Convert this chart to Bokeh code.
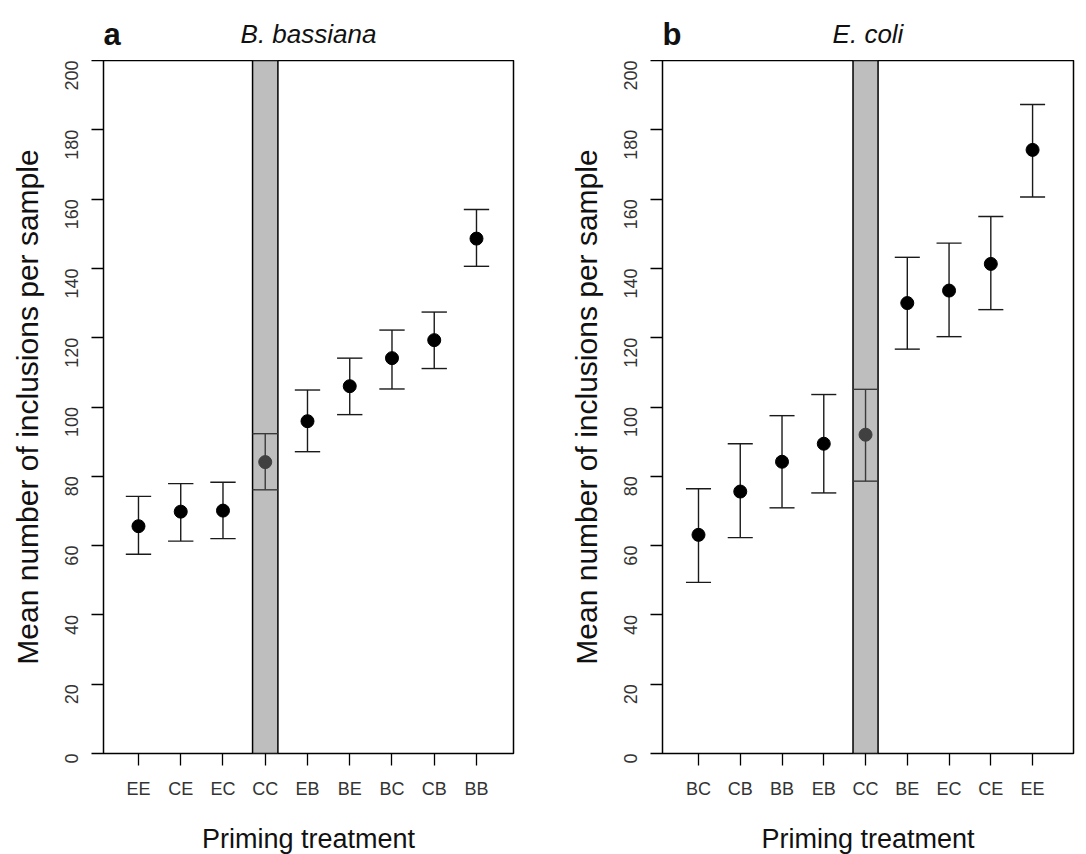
import math
from bokeh.plotting import figure
from bokeh.models import Range1d, FixedTicker
from bokeh.core.properties import value
from bokeh.layouts import row, column
from bokeh.embed import file_html
from bokeh.resources import INLINE

# ---- data ----
y_ticks = [0, 20, 40, 60, 80, 100, 120, 140, 160, 180, 200]

treat_a = ["EE", "CE", "EC", "CC", "EB", "BE", "BC", "CB", "BB"]
mean_a = [65.6, 69.8, 70.1, 84.1, 95.9, 106.0, 114.1, 119.3, 148.6]
upper_a = [74.2, 77.9, 78.3, 92.3, 104.9, 114.1, 122.2, 127.4, 157.0]
lower_a = [57.5, 61.3, 62.0, 76.1, 87.1, 97.8, 105.2, 111.1, 140.6]

treat_b = ["BC", "CB", "BB", "EB", "CC", "BE", "EC", "CE", "EE"]
mean_b = [63.1, 75.6, 84.2, 89.4, 92.0, 130.0, 133.6, 141.3, 174.2]
upper_b = [76.4, 89.4, 97.5, 103.6, 105.1, 143.2, 147.3, 155.0, 187.3]
lower_b = [49.4, 62.3, 70.9, 75.2, 78.6, 116.7, 120.3, 128.1, 160.6]

control = "CC"
FONT = "Liberation Sans"
HEAD_H = 60


def make_panel(treats, means, lows, ups, letter, title, x0, x1, frame_w, bl, br):
    xr = Range1d(x0, x1)

    # header strip carrying the panel letter and italic title, sharing the x mapping
    h = figure(frame_width=frame_w, frame_height=HEAD_H, x_range=xr, y_range=Range1d(0, HEAD_H),
               output_backend="svg", toolbar_location=None,
               min_border_left=bl, min_border_right=br, min_border_top=0, min_border_bottom=0,
               background_fill_color="white", border_fill_color="white")
    h.axis.visible = False
    h.grid.visible = False
    h.outline_line_color = None
    h.text(x=[x0], y=[26], text=[letter], text_font=value(FONT), text_font_size=value("31px"),
           text_font_style="bold", text_align="left", text_baseline="alphabetic",
           text_color="#111111")
    h.text(x=[(x0 + x1) / 2], y=[27], text=[title], text_font=value(FONT),
           text_font_size=value("26px"), text_font_style="italic", text_align="center",
           text_baseline="alphabetic", text_color="#111111")

    p = figure(frame_width=frame_w, frame_height=693,
               x_range=xr, y_range=Range1d(0, 200),
               output_backend="svg", toolbar_location=None,
               min_border_left=bl, min_border_right=br,
               min_border_top=0, min_border_bottom=101,
               background_fill_color="white", border_fill_color="white")
    p.xgrid.visible = False
    p.ygrid.visible = False
    p.outline_line_color = "black"
    p.outline_line_width = 1.5

    pos = list(range(1, len(treats) + 1))
    ci = treats.index(control)
    cx = pos[ci]

    # grey control band
    p.quad(left=[cx - 0.3], right=[cx + 0.3], bottom=[0], top=[200],
           fill_color="#bebebe", line_color="black", line_width=1.5)

    hw = 0.3
    for i, x in enumerate(pos):
        col = "#3a3a3a" if i == ci else "#1a1a1a"
        p.segment(x0=[x], y0=[lows[i]], x1=[x], y1=[ups[i]], line_color=col, line_width=1.4)
        p.segment(x0=[x - hw, x - hw], y0=[lows[i], ups[i]], x1=[x + hw, x + hw],
                  y1=[lows[i], ups[i]], line_color=col, line_width=1.4)
    cols = ["#404040" if i == ci else "black" for i in range(len(pos))]
    p.scatter(x=pos, y=means, marker="circle", size=13, fill_color=cols, line_color=cols)

    # axes
    p.xaxis.ticker = FixedTicker(ticks=pos)
    p.xaxis.major_label_overrides = {x: t for x, t in zip(pos, treats)}
    p.yaxis.ticker = FixedTicker(ticks=y_ticks)
    p.yaxis.major_label_orientation = math.pi / 2
    for ax in (p.xaxis[0], p.yaxis[0]):
        ax.axis_line_color = None
        ax.major_tick_out = 12
        ax.major_tick_in = 0
        ax.minor_tick_line_color = None
        ax.major_tick_line_color = "black"
        ax.major_tick_line_width = 1.3
        ax.major_label_text_font = FONT
        ax.major_label_text_font_size = "18px"
        ax.major_label_text_color = "#333333"
        ax.axis_label_text_font = FONT
        ax.axis_label_text_font_style = "normal"
        ax.axis_label_text_color = "#111111"
    p.xaxis.axis_label_text_font_size = "27px"
    p.yaxis.axis_label_text_font_size = "30px"
    p.xaxis.axis_label = "Priming treatment"
    p.yaxis.axis_label = "Mean number of inclusions per sample"
    p.xaxis.major_label_standoff = 13
    p.xaxis.axis_label_standoff = 22
    p.yaxis.major_label_standoff = 20
    p.yaxis.axis_label_standoff = 12
    return column(h, p, spacing=0)


p1 = make_panel(treat_a, mean_a, lower_a, upper_a, "a", "B. bassiana",
                0.172, 9.876, 410, 103, 30)
p2 = make_panel(treat_b, mean_b, lower_b, upper_b, "b", "E. coli",
                0.138, 9.98, 411, 119, 13)

layout = row(p1, p2, spacing=0)
open("out.html", "w").write(file_html(layout, INLINE))
